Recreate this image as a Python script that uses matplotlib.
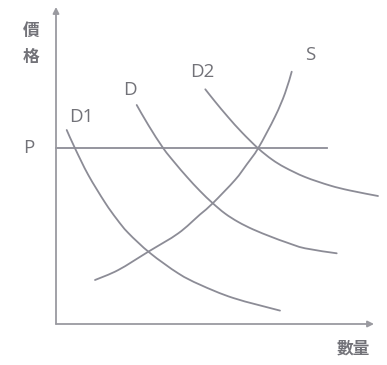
import matplotlib
matplotlib.use("Agg")
import matplotlib.pyplot as plt
from matplotlib.path import Path
from matplotlib.patches import PathPatch

# Curves (quantity, price)
d1_q = [10.7, 19, 32.3, 49, 60.7, 72.3, 94, 122.3, 144, 177.3, 224]
d1_p = [194, 175.7, 149, 121.5, 105, 91, 71, 50.6, 39.3, 26, 13.4]
d_q = [80.7, 92.3, 107.3, 119, 131, 144, 156.5, 169, 182.3, 197.3, 215.7, 230.7, 249, 280.7]
d_p = [219, 199, 175.7, 161, 147, 133, 121, 110.5, 102, 94.5, 87, 81.5, 75.7, 70.7]
d2_q = [149.3, 159, 172, 186, 202.3, 216, 229, 249, 274, 294, 322]
d2_p = [234.7, 222.5, 207, 191.5, 175.5, 164.5, 156.5, 147, 138.5, 133.5, 128]
s_q = [39, 62.3, 92.3, 122.3, 144, 156.5, 179, 190.7, 202.3, 219, 229, 235.7]
s_p = [44, 54, 72.3, 90.7, 109.5, 120.5, 144, 159.5, 176, 207.3, 230.7, 252.3]
price_level = 176
p_line_q = [0, 271]

curve_labels = ["D1", "D", "D2", "S"]
label_q = [25, 74, 146, 254]
label_p = [207, 234, 252, 269]

fig = plt.figure(figsize=(3.87, 3.65), dpi=100)
ax = fig.add_axes([0, 0, 1, 1])
ax.set_xlim(-56, 331)
ax.set_ylim(-41, 324)
ax.axis("off")

lc = "#8c8c96"
lw = 1.3


def smooth_path(xs, ys):
    pts = list(zip(xs, ys))
    n = len(pts)
    verts = [pts[0]]
    codes = [Path.MOVETO]
    for i in range(n - 1):
        p0 = pts[max(i - 1, 0)]
        p1 = pts[i]
        p2 = pts[i + 1]
        p3 = pts[min(i + 2, n - 1)]
        c1 = (p1[0] + (p2[0] - p0[0]) / 6, p1[1] + (p2[1] - p0[1]) / 6)
        c2 = (p2[0] - (p3[0] - p1[0]) / 6, p2[1] - (p3[1] - p1[1]) / 6)
        verts += [c1, c2, p2]
        codes += [Path.CURVE4] * 3
    return Path(verts, codes)


for q, p in [(d1_q, d1_p), (d_q, d_p), (d2_q, d2_p), (s_q, s_p)]:
    ax.add_patch(PathPatch(smooth_path(q, p), facecolor="none", edgecolor=lc,
                           lw=lw, capstyle="round", joinstyle="round"))
ax.plot(p_line_q, [price_level, price_level], color=lc, lw=lw)

# axes with arrows
ax.annotate("", xy=(0, 317), xytext=(0, 0),
            arrowprops=dict(arrowstyle="-|>", color="#9a9aa0", lw=1.3,
                            mutation_scale=9, shrinkA=0, shrinkB=0))
ax.annotate("", xy=(318, 0), xytext=(0, 0),
            arrowprops=dict(arrowstyle="-|>", color="#9a9aa0", lw=1.3,
                            mutation_scale=9, shrinkA=0, shrinkB=0))

tc = "#727278"
for t, q, p in zip(curve_labels, label_q, label_p):
    ax.text(q, p, t, fontsize=13.5, color=tc, ha="center", va="center",
            family="Open Sans")
ax.text(-27, 176, "P", fontsize=13.5, color=tc, ha="center", va="center",
        family="Open Sans")

cjk = ["Noto Sans CJK TC", "DejaVu Sans"]
ax.text(-25, 293, "價", fontsize=12, color=tc, ha="center", va="center",
        family=cjk, fontweight="bold")
ax.text(-25, 267, "格", fontsize=12, color=tc, ha="center", va="center",
        family=cjk, fontweight="bold")
ax.text(297, -24, "數量", fontsize=12, color=tc, ha="center", va="center",
        family=cjk, fontweight="bold")

fig.savefig("out.png", dpi=100)
